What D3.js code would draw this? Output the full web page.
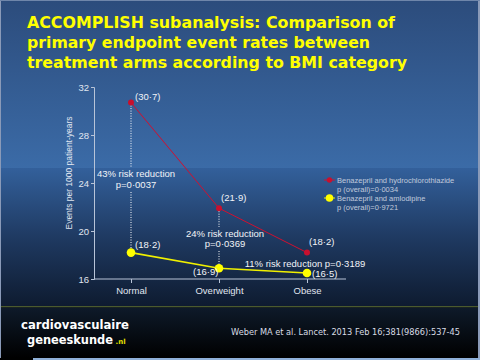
<!DOCTYPE html>
<html><head><meta charset="utf-8">
<script src="https://cdn.jsdelivr.net/npm/d3@7"></script>
<style>
html,body{margin:0;padding:0;background:#000;}
svg{display:block;}
</style></head>
<body>
<svg id="c" width="480" height="360"></svg>
<script>
const categories = ["Normal", "Overweight", "Obese"];
const hctzValues = [30.7, 21.9, 18.2];
const amloValues = [18.2, 16.9, 16.5];
const yTicks = [16, 20, 24, 28, 32];
const seriesNames = ["Benazepril and hydrochlorothiazide", "Benazepril and amlodipine"];
const seriesP = ["p (overall)=0·0034", "p (overall)=0·9721"];
const reductionLines = [["43% risk reduction", "p=0·0037"], ["24% risk reduction", "p=0·0369"], ["11% risk reduction p=0·3189"]];
const titleLines = ["ACCOMPLISH subanalysis: Comparison of", "primary endpoint event rates between", "treatment arms according to BMI category"];

const fmt = v => "(" + v.toFixed(1).replace(".", "·") + ")";
const svg = d3.select("#c");
const defs = svg.append("defs");
const g1 = defs.append("linearGradient").attr("id","gTop").attr("x1",0).attr("y1",0).attr("x2",0).attr("y2",1);
g1.append("stop").attr("offset",0).attr("stop-color","#2c4c7c");
g1.append("stop").attr("offset",1).attr("stop-color","#3b6ba7");
const g2 = defs.append("linearGradient").attr("id","gMid").attr("x1",0).attr("y1",0).attr("x2",0).attr("y2",1);
g2.append("stop").attr("offset",0).attr("stop-color","#33609b");
g2.append("stop").attr("offset",0.5).attr("stop-color","#1f3a62");
g2.append("stop").attr("offset",1).attr("stop-color","#0e1b30");
const g3 = defs.append("linearGradient").attr("id","gFoot").attr("x1",0).attr("y1",0).attr("x2",0).attr("y2",1);
g3.append("stop").attr("offset",0).attr("stop-color","#0e1a2a");
g3.append("stop").attr("offset",1).attr("stop-color","#000000");

svg.append("rect").attr("x",0).attr("y",0).attr("width",480).attr("height",168).attr("fill","url(#gTop)");
svg.append("rect").attr("x",0).attr("y",168).attr("width",480).attr("height",138).attr("fill","url(#gMid)");
svg.append("rect").attr("x",0).attr("y",306).attr("width",480).attr("height",1.5).attr("fill","#4b5a2e");
svg.append("rect").attr("x",0).attr("y",307.5).attr("width",480).attr("height",50.5).attr("fill","url(#gFoot)");
svg.append("rect").attr("x",33).attr("y",358).attr("width",447).attr("height",2).attr("fill","#8fb0d8");
svg.append("rect").attr("x",0).attr("y",0).attr("width",1).attr("height",358).attr("fill","#8a9ab8");
svg.append("rect").attr("x",478).attr("y",0).attr("width",2).attr("height",358).attr("fill","#8a9ab8");
svg.append("rect").attr("x",0).attr("y",0).attr("width",480).attr("height",1).attr("fill","#6f86aa");

// Title
const titleW = [368, 343, 380];
svg.append("g").selectAll("text").data(titleLines).join("text")
  .attr("x",27).attr("y",(d,i)=>28+i*20)
  .attr("font-family","DejaVu Sans").attr("font-weight","bold").attr("font-size",15.5)
  .attr("textLength",(d,i)=>titleW[i]).attr("lengthAdjust","spacingAndGlyphs")
  .attr("fill","#ffff00").text(d=>d);

// Scales
const y = d3.scaleLinear().domain([16,32]).range([279,87]);
const x = d3.scalePoint().domain(categories).range([131,307]);
const FONT = "Liberation Sans Narrow, Liberation Sans, Arial";

const yAxis = svg.append("g").attr("transform","translate(94,0)")
  .call(d3.axisLeft(y).tickValues(yTicks).tickSize(3).tickPadding(2));
yAxis.select(".domain").attr("stroke","#b8c4d8");
yAxis.selectAll(".tick line").attr("stroke","#b8c4d8");
yAxis.selectAll("text").attr("fill","#e0e6f0").attr("font-family",FONT).attr("font-size",9.5);

const xAxis = svg.append("g").attr("transform","translate(0,279)")
  .call(d3.axisBottom(x).tickSize(4).tickPadding(4).tickSizeOuter(0));
xAxis.select(".domain").attr("d","M94,0H346").attr("stroke","#b8c4d8");
xAxis.selectAll(".tick line").attr("stroke","#b8c4d8");
xAxis.selectAll("text").attr("fill","#e0e6f0").attr("font-family",FONT).attr("font-size",9.5);

svg.append("text").attr("transform","translate(72,173) rotate(-90)")
  .attr("text-anchor","middle").attr("font-family",FONT).attr("font-size",9)
  .attr("textLength",113).attr("lengthAdjust","spacingAndGlyphs")
  .attr("fill","#e0e6f0").text("Events per 1000 patient-years");

// Dotted reduction lines
function vdot(cx, y1, y2){
  svg.append("line").attr("x1",cx).attr("x2",cx).attr("y1",y1).attr("y2",y2)
    .attr("stroke","#ffffff").attr("stroke-width",1).attr("stroke-dasharray","1,1.5");
}
const c0 = x(categories[0]), c1 = x(categories[1]);
vdot(c0, y(hctzValues[0])+3, 167);
vdot(c0, 192, y(amloValues[0])-4);
vdot(c1, y(hctzValues[1])+3, 227);
vdot(c1, 251, y(amloValues[1])-4);

const redTxt = svg.append("g").attr("font-family",FONT).attr("font-size",9.5).attr("fill","#f2f4f8").attr("text-anchor","middle");
reductionLines[0].forEach((t,i)=>redTxt.append("text").attr("x",136).attr("y",177+i*10.5).text(t));
reductionLines[1].forEach((t,i)=>redTxt.append("text").attr("x",225).attr("y",236.5+i*10.5).text(t));
redTxt.append("text").attr("x",305).attr("y",266.5).text(reductionLines[2][0]);

// Lines
const line = d3.line().x((d,i)=>x(categories[i])).y(d=>y(d));
svg.append("path").attr("d",line(hctzValues)).attr("fill","none").attr("stroke","#d01030").attr("stroke-width",1);
svg.append("path").attr("d",line(amloValues)).attr("fill","none").attr("stroke","#f0f000").attr("stroke-width",1.6);
svg.append("g").selectAll("circle").data(hctzValues).join("circle")
  .attr("cx",(d,i)=>x(categories[i])).attr("cy",d=>y(d)).attr("r",3).attr("fill","#c8102e");
svg.append("g").selectAll("circle").data(amloValues).join("circle")
  .attr("cx",(d,i)=>x(categories[i])).attr("cy",d=>y(d)).attr("r",4.3).attr("fill","#ffff00");

// Value labels
const lab = svg.append("g").attr("font-family",FONT).attr("font-size",9.5).attr("fill","#f2f4f8");
const hOff = [[4,-3],[2,-7],[2,-8]];
hctzValues.forEach((v,i)=>lab.append("text").attr("x",x(categories[i])+hOff[i][0]).attr("y",y(v)+hOff[i][1]).text(fmt(v)));
const aOff = [[4,-5],[-26,7],[5,4]];
amloValues.forEach((v,i)=>lab.append("text").attr("x",x(categories[i])+aOff[i][0]).attr("y",y(v)+aOff[i][1]).text(fmt(v)));

// Legend
const lg = svg.append("g").attr("font-family",FONT).attr("font-size",7.5).attr("fill","#c0cadc");
const lcol = ["#c8102e","#ffff00"], lstroke = ["#d01030","#f0f000"], lr = [2.7,3.8];
seriesNames.forEach((n,i)=>{
  const yy = 180 + i*18;
  lg.append("line").attr("x1",324).attr("x2",335).attr("y1",yy).attr("y2",yy).attr("stroke",lstroke[i]).attr("stroke-width",1);
  lg.append("circle").attr("cx",329.5).attr("cy",yy).attr("r",lr[i]).attr("fill",lcol[i]);
  lg.append("text").attr("x",337).attr("y",yy+2.7).text(n);
  lg.append("text").attr("x",337).attr("y",yy+11.7).text(seriesP[i]);
});

// Footer
svg.append("text").attr("x",21).attr("y",329).attr("font-family","DejaVu Sans").attr("font-weight","bold")
  .attr("font-size",11.5).attr("textLength",108).attr("lengthAdjust","spacingAndGlyphs")
  .attr("fill","#ffffff").text("cardiovasculaire");
svg.append("text").attr("x",27).attr("y",343.5).attr("font-family","DejaVu Sans").attr("font-weight","bold")
  .attr("font-size",11.5).attr("textLength",86).attr("lengthAdjust","spacingAndGlyphs")
  .attr("fill","#ffffff").text("geneeskunde");
svg.append("text").attr("x",115.5).attr("y",343.5).attr("font-family","DejaVu Sans").attr("font-weight","bold")
  .attr("font-size",7).attr("fill","#e8e000").text(".nl");
svg.append("text").attr("x",231).attr("y",335).attr("font-family","DejaVu Sans").attr("font-size",8)
  .attr("textLength",229).attr("lengthAdjust","spacingAndGlyphs")
  .attr("fill","#d8dce4").text("Weber MA et al. Lancet. 2013 Feb 16;381(9866):537-45");
</script>
</body></html>
